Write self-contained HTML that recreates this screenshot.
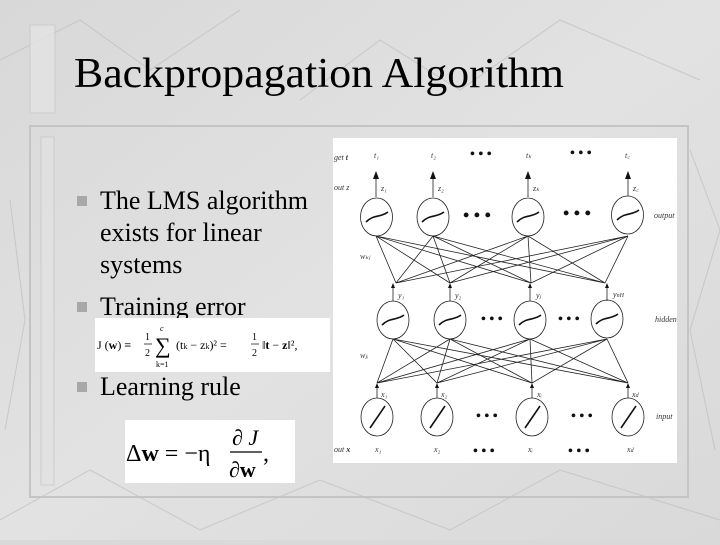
<!DOCTYPE html>
<html><head><meta charset="utf-8"><style>
body{margin:0;width:720px;height:540px;overflow:hidden;background:#d9d9d9;font-family:"Liberation Serif",serif}
</style></head><body>
<svg width="720" height="540" viewBox="0 0 720 540" xmlns="http://www.w3.org/2000/svg" font-family="Liberation Serif, serif">
<defs>
<linearGradient id="bg" x1="0" y1="0" x2="1" y2="1">
<stop offset="0" stop-color="#d8d8d8"/><stop offset="0.5" stop-color="#e2e2e2"/><stop offset="1" stop-color="#d9d9d9"/>
</linearGradient>
</defs>
<rect width="720" height="540" fill="url(#bg)"/>
<g stroke="#bdbdbd" stroke-width="1" fill="none" opacity="0.7">
<path d="M0 60 L80 20 L150 70 L240 10 M300 100 L380 40 L460 90 L560 20 L700 80 M0 520 L90 470 L200 530 L320 480 L450 530 L560 470 L720 520 M690 150 L720 230 L690 330 L715 450 M10 200 L25 320 L5 430"/>
</g>
<rect x="30" y="25" width="25" height="88" fill="#e3e3e3" stroke="#c8c8c8" opacity="0.8"/>
<rect x="30" y="126" width="658" height="371" fill="none" stroke="#c4c4c4" stroke-width="2"/>
<rect x="41" y="137" width="13" height="348" fill="#e2e2e2" stroke="#c8c8c8" opacity="0.8"/>
<text x="74" y="87" font-size="42" fill="#000" textLength="490" lengthAdjust="spacingAndGlyphs">Backpropagation Algorithm</text>
<g font-size="26" fill="#000">
<rect x="77" y="196" width="10" height="10" fill="#a8a8a8"/>
<text x="100" y="209">The LMS algorithm</text>
<text x="100" y="241">exists for linear</text>
<text x="100" y="273">systems</text>
<rect x="77" y="302" width="10" height="10" fill="#a8a8a8"/>
<text x="100" y="315">Training error</text>
<rect x="77" y="382" width="10" height="10" fill="#a8a8a8"/>
<text x="100" y="395">Learning rule</text>
</g>
<rect x="95" y="318" width="235" height="54" fill="#fff"/>
<g font-size="12" fill="#000">
<text x="97" y="349">J (<tspan font-weight="bold">w</tspan>) ≡</text>
<text x="145" y="340" font-size="10">1</text><line x1="144" y1="344" x2="152" y2="344" stroke="#000" stroke-width="0.7"/><text x="145" y="356" font-size="10">2</text>
<text x="155" y="353" font-size="22">∑</text>
<text x="160" y="331" font-size="8" font-style="italic">c</text>
<text x="156" y="367" font-size="8">k=1</text>
<text x="176" y="349">(t<tspan font-size="8">k</tspan> − z<tspan font-size="8">k</tspan>)² =</text>
<text x="252" y="340" font-size="10">1</text><line x1="251" y1="344" x2="259" y2="344" stroke="#000" stroke-width="0.7"/><text x="252" y="356" font-size="10">2</text>
<text x="262" y="349">‖<tspan font-weight="bold">t</tspan> − <tspan font-weight="bold">z</tspan>‖²,</text>
</g>
<rect x="125" y="420" width="170" height="63" fill="#fff"/>
<g font-size="24" fill="#000">
<text x="126" y="461">Δ<tspan font-weight="bold">w</tspan> = −η</text>
<text x="232" y="445" font-size="22">∂ <tspan font-style="italic">J</tspan></text>
<line x1="230" y1="452" x2="262" y2="452" stroke="#000" stroke-width="1.2"/>
<text x="229" y="477" font-size="22">∂<tspan font-weight="bold">w</tspan></text>
<text x="263" y="461">,</text>
</g>
<rect x="333" y="138" width="344" height="325" fill="#fff"/>
<g stroke="#222" stroke-width="0.8" fill="none">
<path d="M396 283 L376 236 M396 283 L433 236 M396 283 L528 236 M396 283 L628 236
M450 283 L376 236 M450 283 L433 236 M450 283 L528 236 M450 283 L628 236
M531 283 L376 236 M531 283 L433 236 M531 283 L528 236 M531 283 L628 236
M605 283 L376 236 M605 283 L433 236 M605 283 L528 236 M605 283 L628 236"/>
<path d="M377 383 L393 339 M377 383 L450 339 M377 383 L530 339 M377 383 L607 339
M437 383 L393 339 M437 383 L450 339 M437 383 L530 339 M437 383 L607 339
M532 383 L393 339 M532 383 L450 339 M532 383 L530 339 M532 383 L607 339
M628 383 L393 339 M628 383 L450 339 M628 383 L530 339 M628 383 L607 339"/>
<path d="M376 197 L376 178 M433 197 L433 178 M528 197 L528 178 M628 196 L628 178"/>
<path d="M393 301 L393 285 M450 301 L450 285 M530 301 L530 285 M607 301 L607 285"/>
<path d="M377 398 L377 385 M437 398 L437 385 M532 398 L532 385 M628 398 L628 385"/>
<ellipse cx="376.5" cy="217" rx="16" ry="19"/><ellipse cx="433" cy="217" rx="16" ry="19"/><ellipse cx="528" cy="217" rx="16" ry="19"/><ellipse cx="627.5" cy="215" rx="16" ry="19"/>
<ellipse cx="393" cy="320" rx="16" ry="19"/><ellipse cx="450" cy="320" rx="16" ry="19"/><ellipse cx="530" cy="320" rx="16" ry="19"/><ellipse cx="607" cy="319" rx="16" ry="19"/>
<ellipse cx="377" cy="417" rx="16" ry="19"/><ellipse cx="437" cy="417" rx="16" ry="19"/><ellipse cx="532" cy="417" rx="16" ry="19"/><ellipse cx="628" cy="417" rx="16" ry="19"/>
</g>
<g stroke="#111" stroke-width="1.6" fill="none">
<path d="M366 222 C374 214 380 218 388 212 M422 222 C430 214 436 218 444 212 M517 222 C525 214 531 218 539 212 M617 220 C625 212 631 216 639 210"/>
<path d="M382 325 C390 317 396 321 404 315 M439 325 C447 317 453 321 461 315 M519 325 C527 317 533 321 541 315 M596 324 C604 316 610 320 618 314"/>
<path d="M370 428 L385 406 M430 428 L445 406 M525 428 L540 406 M621 428 L636 406"/>
</g>
<g fill="#111">
<path d="M373 179 L376 171 L379 179Z M430 179 L433 171 L436 179Z M525 179 L528 171 L531 179Z M625 179 L628 171 L631 179Z"/>
<path d="M391 288 L393 283 L395 288Z M448 288 L450 283 L452 288Z M528 288 L530 283 L532 288Z M605 288 L607 283 L609 288Z"/>
<path d="M375 388 L377 383 L379 388Z M435 388 L437 383 L439 388Z M530 388 L532 383 L534 388Z M626 388 L628 383 L630 388Z"/>
</g>
<g font-size="8" font-style="italic" fill="#333">
<text x="334" y="160">get <tspan font-weight="bold">t</tspan></text>
<text x="334" y="190">out z</text>
<text x="374" y="158">t₁</text><text x="431" y="158">t₂</text><text x="526" y="158">tₖ</text><text x="625" y="158">t꜀</text>
<text x="381" y="191">z₁</text><text x="438" y="191">z₂</text><text x="533" y="191">zₖ</text><text x="633" y="191">z꜀</text>
<text x="654" y="218">output</text>
<text x="360" y="259">wₖⱼ</text>
<text x="398" y="298">y₁</text><text x="455" y="298">y₂</text><text x="536" y="298">yⱼ</text><text x="613" y="297">y<tspan font-size="6">nH</tspan></text>
<text x="655" y="322">hidden</text>
<text x="360" y="358">wⱼᵢ</text>
<text x="381" y="397">x₁</text><text x="441" y="397">x₂</text><text x="537" y="397">xᵢ</text><text x="632" y="397">x<tspan font-size="6">d</tspan></text>
<text x="656" y="419">input</text>
<text x="334" y="452">out <tspan font-weight="bold">x</tspan></text>
<text x="375" y="452">x₁</text><text x="434" y="452">x₂</text><text x="528" y="452">xᵢ</text><text x="627" y="452">x<tspan font-size="6">d</tspan></text>
</g>
<g font-size="14" font-weight="bold" fill="#111">
<text x="470" y="158">• • •</text><text x="570" y="157">• • •</text>
<text x="463" y="221" font-size="18">• • •</text><text x="563" y="219" font-size="18">• • •</text>
<text x="481" y="323">• • •</text><text x="558" y="323">• • •</text>
<text x="476" y="420">• • •</text><text x="571" y="420">• • •</text>
<text x="473" y="455">• • •</text><text x="568" y="455">• • •</text>
</g>
</svg>
</body></html>
